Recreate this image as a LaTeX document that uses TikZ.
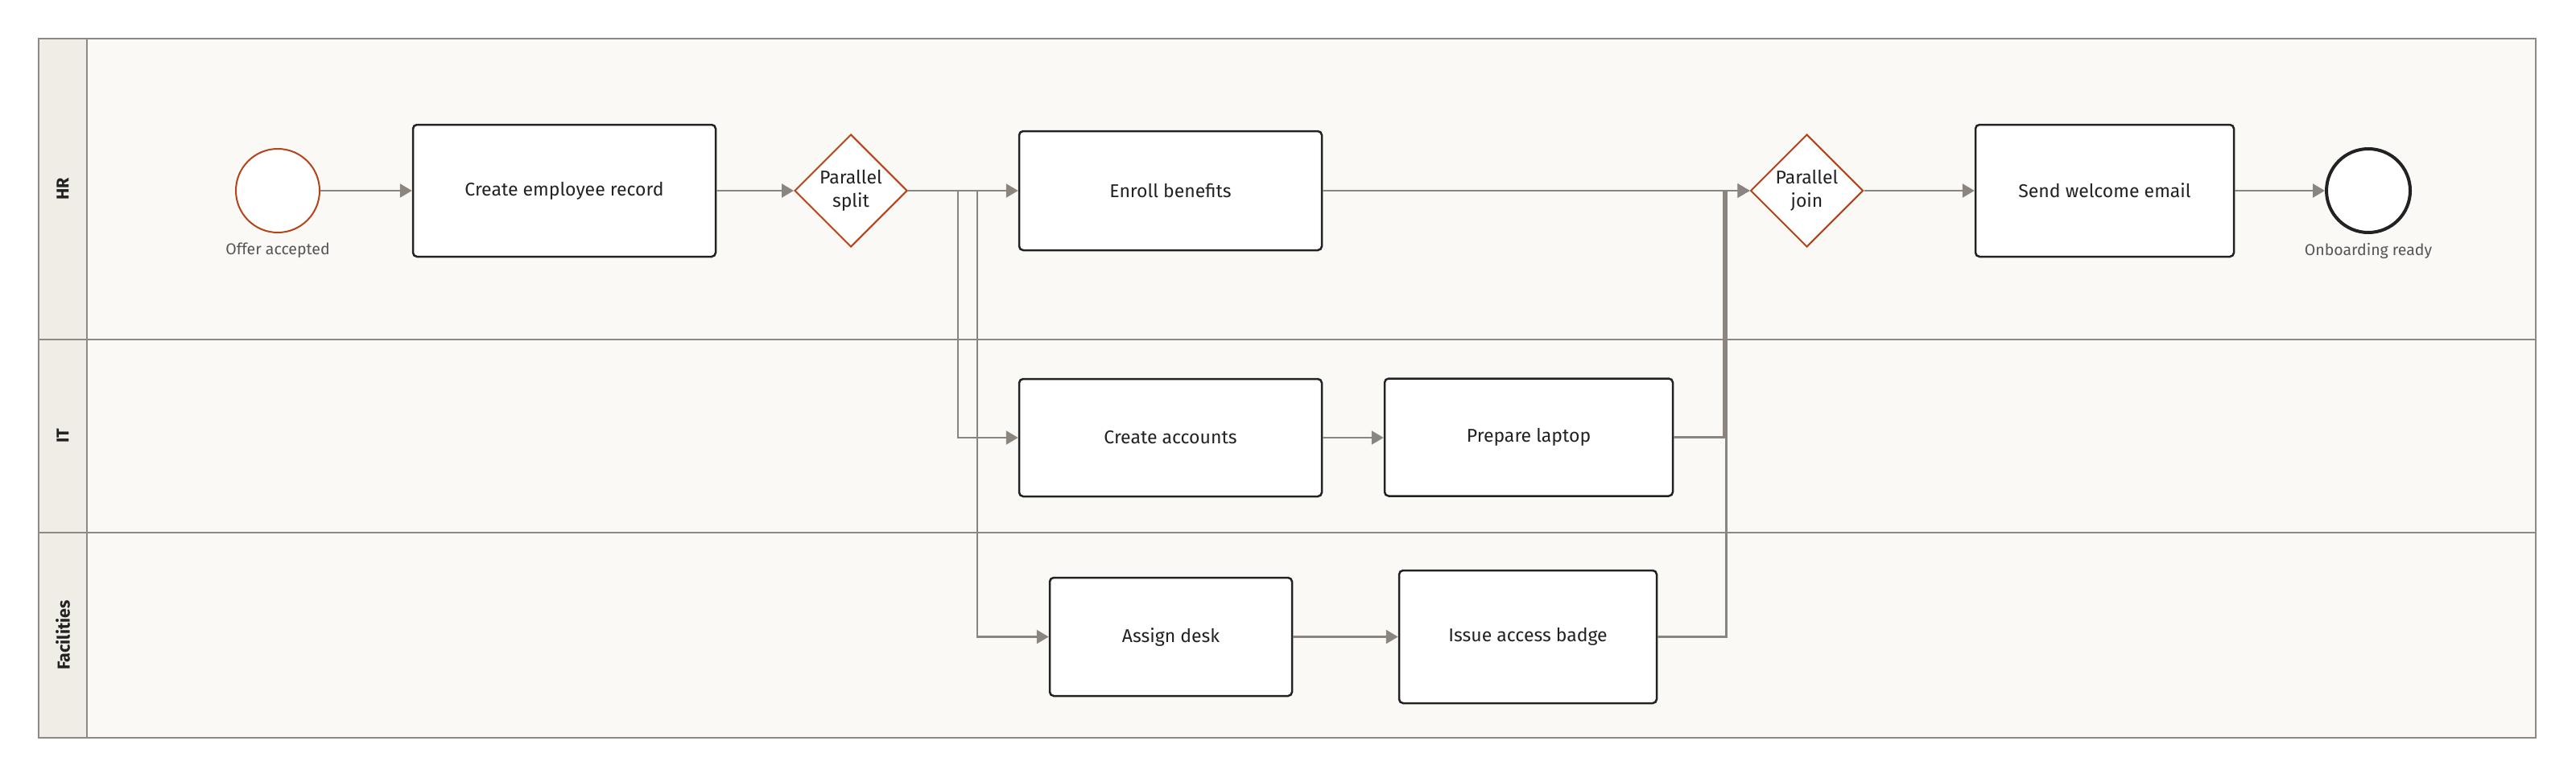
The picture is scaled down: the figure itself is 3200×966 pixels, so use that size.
\documentclass[tikz,border=0pt]{standalone}
\usepackage{fontspec}
\setmainfont{Fira Sans}
\usetikzlibrary{shapes.geometric,arrows.meta}
\definecolor{lanebg}{HTML}{FAF9F6}
\definecolor{headbg}{HTML}{F0EDE7}
\definecolor{bordc}{HTML}{8E8A83}
\definecolor{flowc}{HTML}{8A867F}
\definecolor{gwc}{HTML}{B5441B}
\definecolor{ink}{HTML}{222222}
\definecolor{muted}{HTML}{555555}
\tikzset{
  taskbox/.style={draw=ink, fill=white, line width=2.5pt, rounded corners=5pt, inner sep=0pt,
    font=\fontsize{23}{27}\selectfont, text=ink, align=center},
  gwbox/.style={diamond, aspect=1, draw=gwc, fill=white, line width=2pt, inner sep=0pt,
    minimum width=140pt, minimum height=140pt, font=\fontsize{23}{29}\selectfont, text=ink, align=center},
  startev/.style={circle, draw=gwc, fill=white, line width=2pt, minimum size=104pt, inner sep=0pt},
  endev/.style={circle, draw=ink, fill=white, line width=4pt, minimum size=104pt, inner sep=0pt},
  evlbl/.style={font=\fontsize{19.5}{22}\selectfont, text=muted, inner sep=0pt},
  lanelbl/.style={rotate=90, font=\bfseries\fontsize{21.5}{24}\selectfont, text=ink, inner sep=0pt},
  flow/.style={draw=flowc, line width=2.5pt, -{Triangle[length=15pt,width=17pt]}},
  lanebord/.style={draw=bordc, line width=2pt},
}
\begin{document}
\begin{tikzpicture}[x=1pt,y=-1pt]
\useasboundingbox (0,0) rectangle (3200,966);
\fill[white] (0,0) rectangle (3200,966);
% pool and lanes
\fill[lanebg] (48,48) rectangle (3150,917);
\fill[headbg] (48,48) rectangle (108,917);
\draw[lanebord] (108,48) -- (108,917);
\draw[lanebord] (48,422) -- (3150,422);
\draw[lanebord] (48,662) -- (3150,662);
\draw[lanebord] (48,48) rectangle (3150,917);
\node[lanelbl] (lhr) at (78,235) {HR};
\node[lanelbl] (lit) at (78,542) {IT};
\node[lanelbl] (lfac) at (78,789.5) {Facilities};
% nodes
\node[startev] (start) at (345,237) {};
\node[evlbl] (startlbl) at (345,311) {Offer accepted};
\node[taskbox, minimum width=376pt, minimum height=164pt] (rec) at (701,237) {Create employee record};
\node[gwbox] (split) at (1057,237) {Parallel\\split};
\node[taskbox, minimum width=376pt, minimum height=148pt] (enr) at (1454,237) {Enroll benefits};
\node[taskbox, minimum width=376pt, minimum height=146pt] (acc) at (1454,544) {Create accounts};
\node[taskbox, minimum width=358pt, minimum height=146pt] (lap) at (1899,543.5) {Prepare laptop};
\node[taskbox, minimum width=301pt, minimum height=147pt] (desk) at (1454.5,791.5) {Assign desk};
\node[taskbox, minimum width=320pt, minimum height=165pt] (badge) at (1898,791.5) {Issue access badge};
\node[gwbox] (join) at (2244.5,237) {Parallel\\join};
\node[taskbox, minimum width=321pt, minimum height=164pt] (mail) at (2614.5,237) {Send welcome email};
\node[endev] (endevt) at (2942,237) {};
\node[evlbl] (endlbl) at (2942,312) {Onboarding ready};
% connectors
\draw[flow] (start.east) -- (rec.west);
\draw[flow] (rec.east) -- (split.west);
\draw[flow] (split.east) -- (enr.west);
\draw[flow] (split.east) -- ++(62,0) |- (acc.west);
\draw[flow] (split.east) -- ++(86,0) |- (desk.west);
\draw[flow] (acc.east) -- (lap.west |- acc.east);
\draw[flow] (desk.east) -- (badge.west);
\draw[flow] (enr.east) -- (join.west);
\draw[flow] (lap.east) -- ++(62,0) |- (join.west);
\draw[flow] (badge.east) -- ++(85,0) |- (join.west);
\draw[flow] (join.east) -- (mail.west);
\draw[flow] (mail.east) -- (endevt.west);
\end{tikzpicture}
\end{document}
